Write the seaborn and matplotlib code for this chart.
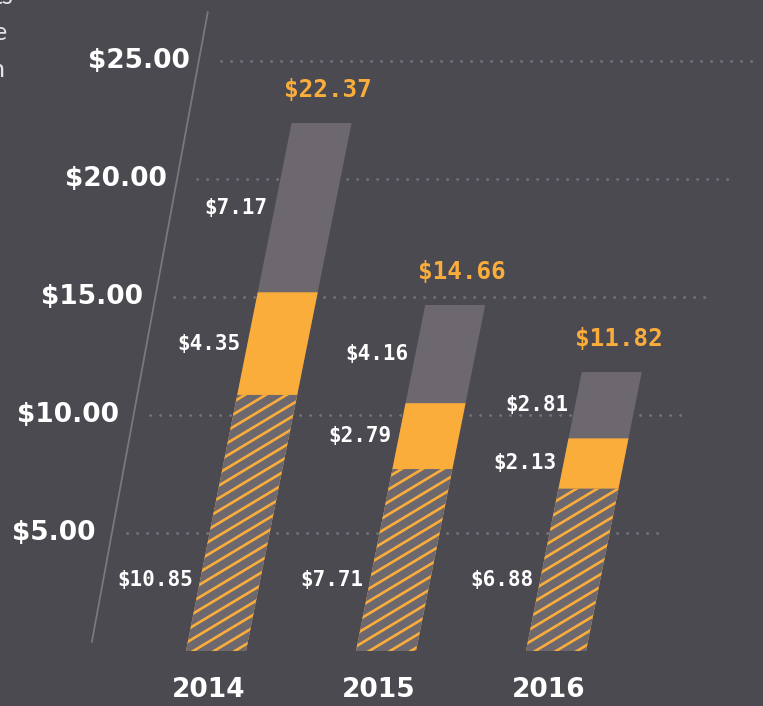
import numpy as np
import matplotlib
matplotlib.use("Agg")
import matplotlib.pyplot as plt
import matplotlib.transforms as mtransforms
from matplotlib.collections import LineCollection
import pandas as pd
import seaborn as sns

# данные
years = ["2014", "2015", "2016"]
base = [10.85, 7.71, 6.88]
middle = [4.35, 2.79, 2.13]
upper = [7.17, 4.16, 2.81]
yticks = [5, 10, 15, 20, 25]
tick_labels = ["$5.00", "$10.00", "$15.00", "$20.00", "$25.00"]

BG = "#4b4a51"
GREY = "#6c686e"
ORANGE = "#fbad3c"
GRID = "#75737b"

W, H = 763, 706
PX_X, PX_Y = 170, 23.6   # пикселей на категорию / на доллар
X0, Y0 = 216, 651        # пиксель центра первого столбца и нуля
SLANT = 0.2              # наклон столбцов

sns.set_theme(style="white")
plt.rcParams["font.family"] = ["DejaVu Sans"]

fig = plt.figure(figsize=(W / 100, H / 100), dpi=100, facecolor=BG)
ax = fig.add_axes([0, 0, 1, 1])
ax.set_facecolor(BG)

df = pd.DataFrame({"year": years, "base": base})
df["mid"] = df["base"] + np.array(middle)
df["total"] = df["mid"] + np.array(upper)

bw = 60 / PX_X
kw = dict(data=df, x="year", width=bw, saturation=1, errorbar=None,
          linewidth=0, ax=ax, zorder=3)
sns.barplot(y="total", color=GREY, **kw)
sns.barplot(y="mid", color=ORANGE, **kw)
n_before = len(ax.patches)
sns.barplot(y="base", color=GREY, **kw)
base_patches = ax.patches[n_before:]

ax.set_xlim(-X0 / PX_X, (W - X0) / PX_X)
ax.set_ylim(-(H - Y0) / PX_Y, Y0 / PX_Y)
ax.axis("off")

# наклон: x' = x + c*y
c = SLANT * PX_Y / PX_X
skew = mtransforms.Affine2D(np.array([[1, c, 0], [0, 1, 0], [0, 0, 1]]))
sk = skew + ax.transData
for p in ax.patches:
    p.set_transform(sk)

# штриховка нижних сегментов
m = np.tan(np.radians(31))
step = 12.5
for p in base_patches:
    verts = p.get_path().transformed(p.get_transform()).vertices
    xmin, xmax = verts[:, 0].min(), verts[:, 0].max()
    ymin, ymax = verts[:, 1].min(), verts[:, 1].max()
    segs = []
    for b in np.arange(ymin - m * (xmax - xmin), ymax + step, step):
        segs.append([(xmin, b), (xmax, b + m * (xmax - xmin))])
    lc = LineCollection(segs, colors=ORANGE, linewidths=1.9,
                        transform=mtransforms.IdentityTransform(), zorder=4)
    ax.add_collection(lc, autolim=False)
    lc.set_clip_path(p.get_path(), p.get_transform())

# сетка
gx = [(103 - X0) / PX_X, (638 - X0) / PX_X]
for v in yticks:
    ax.plot(gx, [v, v], transform=sk, color=GRID, lw=2,
            ls=(0, (0.1, 3.5)), dash_capstyle="round", zorder=1)

# наклонная ось
ax.plot([-0.741, -0.80], [0.38, 27.08], transform=sk, color="#7a787e", lw=1.3, zorder=2)

for v, lab in zip(yticks, tick_labels):
    ax.text(-0.847, v, lab, transform=sk, ha="right", va="center",
            fontsize=19, fontweight="bold", color="white")

mono = ["DejaVu Sans Mono"]
gap = 7 / PX_X
for i in range(len(years)):
    b, md, up = base[i], middle[i], upper[i]
    for yv, val in [(3.0, b), (b + md / 2, md), (b + md + up / 2, up)]:
        ax.text(i - bw / 2 - gap, yv, "$%.2f" % val, transform=sk, ha="right",
                va="center", fontsize=15, fontweight="bold", family=mono,
                color="white", zorder=5)
    tot = df["total"][i]
    ax.text(i, tot + 1.4, "$%.2f" % tot, transform=sk, ha="center", va="center",
            fontsize=17.5, fontweight="bold", family=mono, color=ORANGE)
    ax.text(i, -1.65, years[i], transform=sk, ha="center", va="center",
            fontsize=19, fontweight="bold", color="white")

# обрезанный текст слева сверху
for s, x, y in [("ts", 13, 4), ("e", 7, 40), ("n", 4, 77)]:
    fig.text(x / W, 1 - y / H, s, ha="right", va="baseline", fontsize=18,
             family=["Lato", "DejaVu Sans"], color="#e4e4e6")

fig.savefig("out.png", dpi=100, facecolor=BG)
